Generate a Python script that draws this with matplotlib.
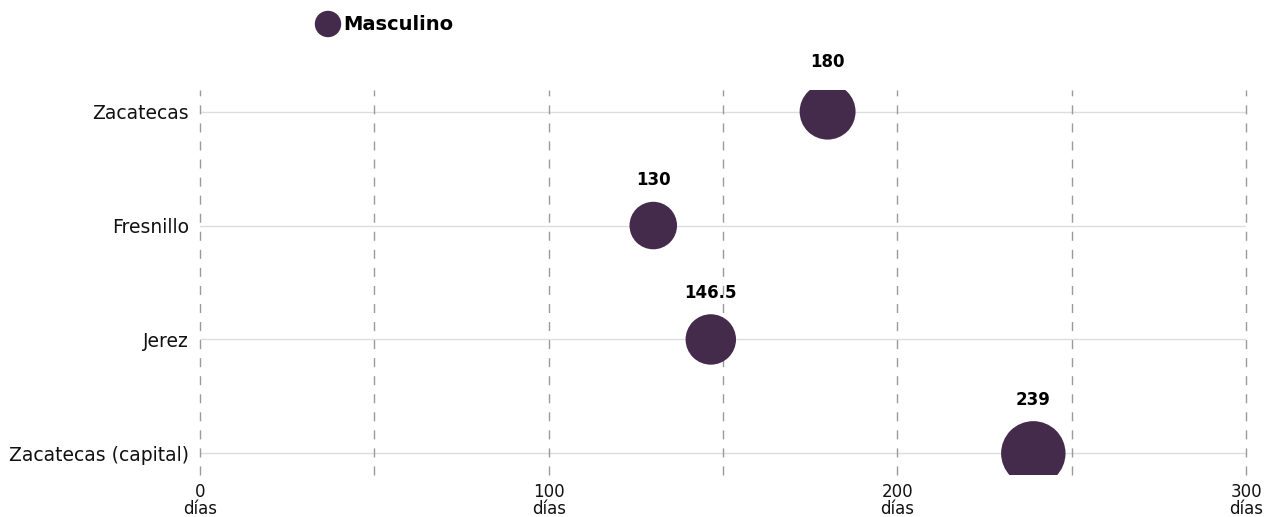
import matplotlib
matplotlib.use("Agg")
import matplotlib.pyplot as plt
import numpy as np

categories = ["Zacatecas", "Fresnillo", "Jerez", "Zacatecas (capital)"]
values = [180, 130, 146.5, 239]
value_labels = ["180", "130", "146.5", "239"]
series_name = "Masculino"
xticks = [0, 100, 200, 300]
xtick_labels = ["0\ndías", "100\ndías", "200\ndías", "300\ndías"]
gridlines_x = [0, 50, 100, 150, 200, 250, 300]

plt.rcParams['font.family'] = ['DejaVu Sans']
color = "#442a4b"

fig = plt.figure(figsize=(12.76, 5.17), dpi=100)
ax = fig.add_axes([200/1276, 1-475/517, 1046/1276, (475-90)/517])

ypos = np.arange(len(categories))
scale = 9.0
sizes = [v * scale for v in values]

for g in gridlines_x:
    ax.axvline(g, color="#9a9a9a", lw=1, ls=(0, (6.5, 6.5)), zorder=1, clip_on=False)
for y in ypos:
    ax.axhline(y, color="#dddddd", lw=1, zorder=0.5)

ax.scatter(values, ypos, s=sizes, color=color, zorder=3, linewidths=0)

for v, y, lab, s in zip(values, ypos, value_labels, sizes):
    r = np.sqrt(s) / 2
    ax.annotate(lab, (v, y), xytext=(0, r + 9), textcoords="offset points",
                ha="center", va="bottom", fontsize=12, fontweight="bold", color="black")

ax.set_xlim(0, 300)
ax.set_ylim(3.19, -0.19)
ax.set_yticks(ypos)
ax.set_yticklabels(categories, fontsize=13.5, color="#111111")
ax.set_xticks(xticks)
ax.set_xticklabels(xtick_labels, fontsize=12, color="#111111", linespacing=0.9)
ax.tick_params(axis="both", length=0)
ax.tick_params(axis="y", pad=8)
ax.tick_params(axis="x", pad=6)
for sp in ax.spines.values():
    sp.set_visible(False)

# legend
fig.patches.append(matplotlib.patches.Ellipse((328/1276, 1-24/517), 25/1276, 25/517,
                                               transform=fig.transFigure, color=color))
fig.text(343/1276, 1-24/517, series_name, fontsize=14, fontweight="bold",
         va="center", ha="left", color="black")

fig.savefig("out.png", dpi=100)
